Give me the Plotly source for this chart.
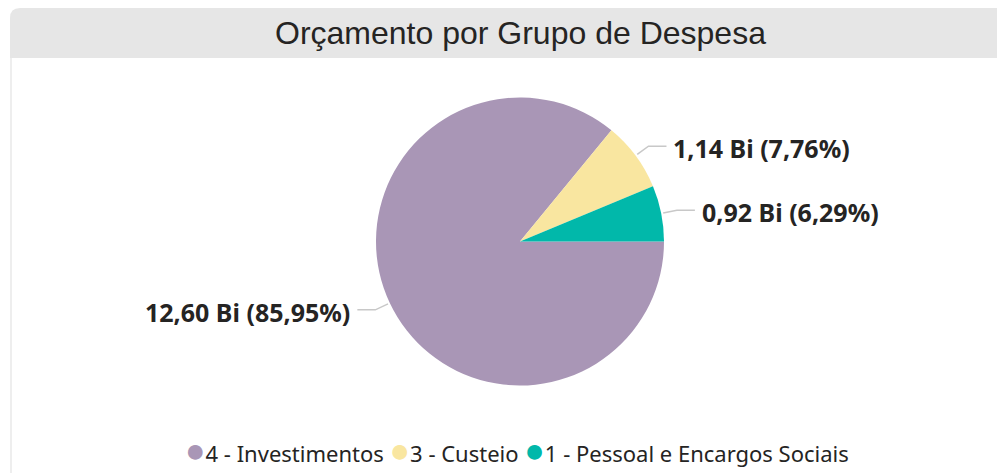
import math
import plotly.graph_objects as go

# dados do grafico
categorias = ["4 - Investimentos", "3 - Custeio", "1 - Pessoal e Encargos Sociais"]
valores = [12.60, 1.14, 0.92]
valores_txt = ["12,60 Bi", "1,14 Bi", "0,92 Bi"]
percentuais = ["85,95%", "7,76%", "6,29%"]
cores = ["#A996B6", "#F9E6A0", "#01B8AA"]

# a pagina tem 8px de margem no body; coordenadas abaixo sao da janela
OFF = 8
W, H = 1005 - OFF, 473 - OFF
cx, cy, r = 520, 241.5, 144

fig = go.Figure()

fig.add_trace(go.Pie(
    labels=categorias,
    values=valores,
    sort=False,
    direction="clockwise",
    rotation=90,
    textinfo="none",
    hoverinfo="label+value+percent",
    marker=dict(colors=cores, line=dict(color="white", width=0)),
    domain=dict(x=[(cx - r - OFF) / W, (cx + r - OFF) / W],
                y=[1 - (cy + r - OFF) / H, 1 - (cy - r - OFF) / H]),
    showlegend=False,
))

# linhas de chamada e rotulos calculados a partir dos angulos das fatias
total = sum(valores)
acum = 0
lx, ly = [], []
anots = []
for v, vt, pt in zip(valores, valores_txt, percentuais):
    meio = (acum + v / 2) / total * 2 * math.pi
    acum += v
    c, s = math.cos(meio), math.sin(meio)
    x0, y0 = cx + (r + 2) * c, cy + (r + 2) * s
    x1, y1 = cx + (r + 16) * c, cy + (r + 16) * s
    lado = 1 if c >= 0 else -1
    x2 = x1 + lado * 18
    lx += [x0, x1, x2, None]
    ly += [y0, y1, y1, None]
    anots.append(dict(
        x=x2 + lado * 5, y=y1 + 2, xref="x", yref="y",
        text=f"{vt} ({pt})", showarrow=False,
        xanchor="left" if lado > 0 else "right", yanchor="middle",
        font=dict(family="Noto Sans, Open Sans, sans-serif", size=25,
                  color="#252423", weight="bold"),
    ))

fig.add_trace(go.Scatter(
    x=lx, y=ly, mode="lines",
    line=dict(color="#C8C8C8", width=1.5),
    hoverinfo="skip", showlegend=False,
))

# legenda em texto com marcadores circulares
itens = [f"<span style='color:{cor};font-size:34px'>●</span>{cat}"
         for cat, cor in zip(categorias, cores)]
anots.append(dict(
    x=517, y=449, xref="x", yref="y", text="&nbsp;".join(itens),
    showarrow=False, xanchor="center", yanchor="middle",
    font=dict(family="Noto Sans, sans-serif", size=22, color="#252423"),
))

anots.append(dict(
    x=520, y=33, xref="x", yref="y", text="Orçamento por Grupo de Despesa",
    showarrow=False, xanchor="center", yanchor="middle",
    font=dict(family="Liberation Sans, Arial, sans-serif", size=32, color="#252423"),
))

fig.update_layout(
    width=W, height=H,
    margin=dict(l=0, r=0, t=0, b=0),
    paper_bgcolor="white", plot_bgcolor="rgba(0,0,0,0)",
    xaxis=dict(range=[OFF, OFF + W], visible=False, fixedrange=True),
    yaxis=dict(range=[OFF + H, OFF], visible=False, fixedrange=True),
    annotations=anots,
    showlegend=False,
    shapes=[
        dict(type="path", xref="x", yref="y",
             path="M 10,58 L 10,18 Q 10,8 20,8 L 1005,8 L 1005,58 Z",
             fillcolor="#E6E6E6", line=dict(width=0), layer="below"),
        dict(type="line", xref="x", yref="y", x0=11, x1=11, y0=58, y1=473,
             line=dict(color="#E8E8E8", width=1.5), layer="below"),
    ],
)

fig.write_html("out.html")
